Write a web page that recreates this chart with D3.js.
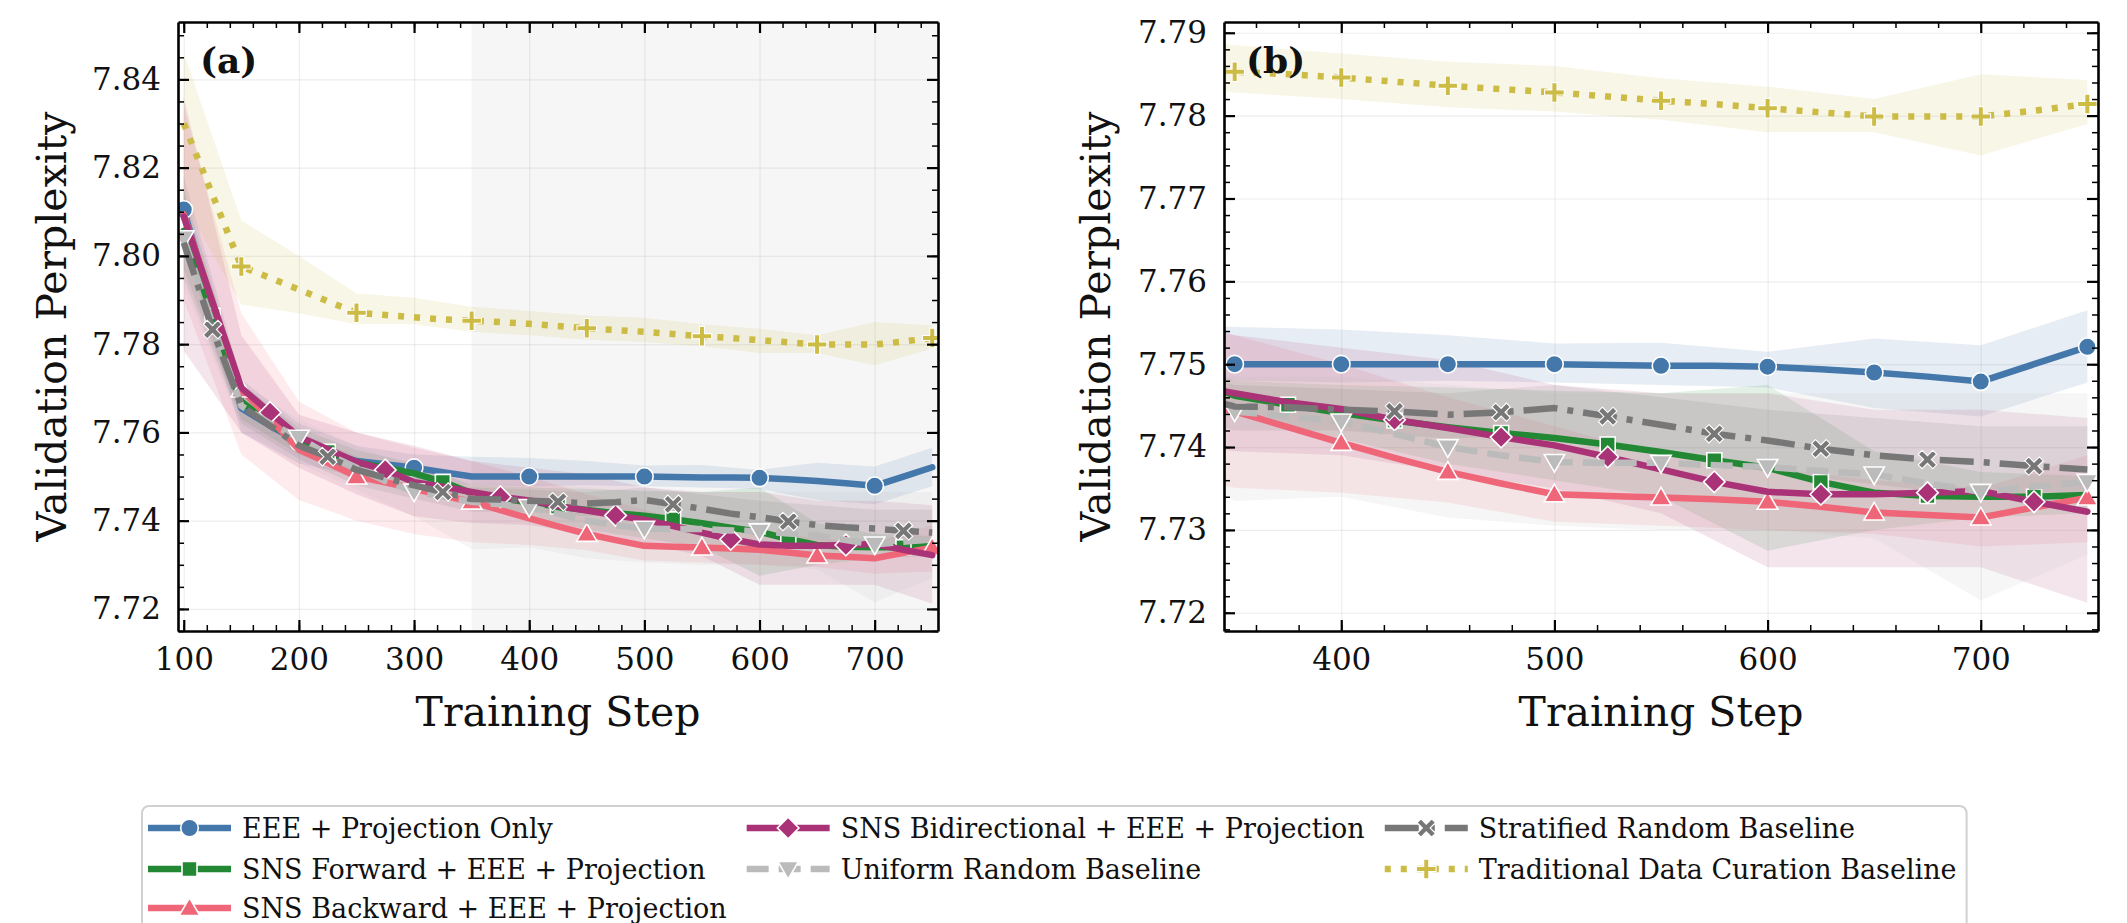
<!DOCTYPE html>
<html><head><meta charset="utf-8">
<script src="https://cdn.jsdelivr.net/npm/d3@7"></script>
<style>body{margin:0;background:#fff}svg{display:block}</style>
</head><body>
<svg id="chart" width="2127" height="923"></svg>
<script>
// ---------------- DATA ----------------
const steps = [100,125,150,175,200,225,250,275,300,325,350,375,400,425,450,475,500,525,550,575,600,625,650,675,700,725,750];
const eeeOnly      = [7.8105,7.7880,7.7655,7.7615,7.7578,7.7555,7.7535,7.7528,7.7520,7.7510,7.7500,7.7500,7.7500,7.7500,7.7500,7.7500,7.7500,7.7499,7.7498,7.7498,7.7497,7.7494,7.7490,7.7485,7.7479,7.7500,7.7521];
const snsForward   = [7.8057,7.7864,7.7670,7.7620,7.7577,7.7556,7.7532,7.7520,7.7507,7.7488,7.7462,7.7451,7.7441,7.7432,7.7424,7.7417,7.7411,7.7403,7.7394,7.7384,7.7375,7.7358,7.7345,7.7341,7.7340,7.7340,7.7342];
const snsBackward  = [7.8094,7.7895,7.7697,7.7630,7.7561,7.7531,7.7500,7.7487,7.7472,7.7457,7.7443,7.7424,7.7405,7.7387,7.7370,7.7356,7.7343,7.7341,7.7339,7.7337,7.7334,7.7328,7.7321,7.7318,7.7315,7.7327,7.7339];
const snsBidir     = [7.8089,7.7895,7.7701,7.7645,7.7590,7.7562,7.7533,7.7515,7.7487,7.7477,7.7465,7.7454,7.7446,7.7433,7.7423,7.7412,7.7402,7.7388,7.7373,7.7358,7.7346,7.7343,7.7343,7.7345,7.7347,7.7334,7.7322];
const uniformRand  = [7.8040,7.7845,7.7660,7.7620,7.7588,7.7550,7.7520,7.7490,7.7466,7.7455,7.7443,7.7437,7.7431,7.7416,7.7400,7.7390,7.7382,7.7381,7.7381,7.7378,7.7376,7.7371,7.7367,7.7356,7.7346,7.7352,7.7358];
const stratRand    = [7.8030,7.7833,7.7660,7.7615,7.7570,7.7545,7.7515,7.7497,7.7480,7.7465,7.7449,7.7448,7.7445,7.7443,7.7439,7.7442,7.7447,7.7437,7.7427,7.7416,7.7408,7.7398,7.7390,7.7385,7.7382,7.7377,7.7373];
const traditional  = [7.8300,7.8138,7.7976,7.7950,7.7924,7.7897,7.7871,7.7866,7.7861,7.7856,7.7853,7.7850,7.7846,7.7841,7.7836,7.7832,7.7828,7.7823,7.7818,7.7814,7.7809,7.7804,7.7799,7.7799,7.7799,7.7806,7.7814];

// confidence bands (every 50 steps)
const bandSteps = [100,150,200,250,300,350,400,450,500,550,600,650,700,750];
const eeeLo   = [7.8030,7.7600,7.7530,7.7500,7.7490,7.7480,7.7478,7.7480,7.7478,7.7475,7.7472,7.7447,7.7437,7.7478];
const eeeHi   = [7.8180,7.7720,7.7620,7.7570,7.7550,7.7545,7.7542,7.7535,7.7525,7.7526,7.7515,7.7531,7.7523,7.7565];
const fwdLo   = [7.7970,7.7630,7.7550,7.7500,7.7480,7.7440,7.7410,7.7380,7.7360,7.7340,7.7275,7.7300,7.7315,7.7320];
const fwdHi   = [7.8150,7.7710,7.7610,7.7560,7.7530,7.7480,7.7475,7.7472,7.7468,7.7465,7.7475,7.7395,7.7370,7.7365];
const bwdLo   = [7.7900,7.7550,7.7447,7.7400,7.7370,7.7351,7.7345,7.7333,7.7310,7.7305,7.7300,7.7295,7.7280,7.7285];
const bwdHi   = [7.8340,7.7870,7.7670,7.7600,7.7565,7.7535,7.7500,7.7460,7.7425,7.7390,7.7375,7.7360,7.7350,7.7390];
const bidLo   = [7.7785,7.7600,7.7520,7.7460,7.7410,7.7395,7.7390,7.7370,7.7350,7.7320,7.7255,7.7255,7.7255,7.7212];
const bidHi   = [7.8360,7.7820,7.7640,7.7600,7.7570,7.7535,7.7520,7.7505,7.7475,7.7465,7.7465,7.7445,7.7445,7.7435];
const uniLo   = [7.7930,7.7610,7.7530,7.7470,7.7410,7.7335,7.7340,7.7315,7.7305,7.7300,7.7300,7.7290,7.7215,7.7270];
const uniHi   = [7.8140,7.7710,7.7630,7.7570,7.7520,7.7485,7.7485,7.7475,7.7465,7.7465,7.7465,7.7465,7.7465,7.7465];
const strLo   = [7.7950,7.7620,7.7540,7.7480,7.7450,7.7420,7.7420,7.7410,7.7415,7.7395,7.7370,7.7355,7.7340,7.7330];
const strHi   = [7.8120,7.7700,7.7600,7.7545,7.7510,7.7475,7.7470,7.7465,7.7475,7.7460,7.7445,7.7435,7.7425,7.7425];
const tradLo  = [7.8120,7.7890,7.7870,7.7845,7.7845,7.7828,7.7820,7.7810,7.7805,7.7795,7.7780,7.7780,7.7752,7.7790];
const tradHi  = [7.8460,7.8080,7.8000,7.7915,7.7905,7.7885,7.7875,7.7865,7.7860,7.7845,7.7835,7.7820,7.7850,7.7843];

const seriesNames = ["EEE + Projection Only","SNS Forward + EEE + Projection","SNS Backward + EEE + Projection",
  "SNS Bidirectional + EEE + Projection","Uniform Random Baseline","Stratified Random Baseline","Traditional Data Curation Baseline"];
const colors = ["#4477AA","#228833","#EE6677","#AA3377","#BBBBBB","#777777","#CCBB44"];

// marker positions (training steps) per panel
const marksA = [[100,200,300,400,500,600,700],[125,225,325,425,525,625,725],[150,250,350,450,550,650,750],
  [175,275,375,475,575,675],[100,200,300,400,500,600,700],[125,225,325,425,525,625,725],[150,250,350,450,550,650,750]];
const marksB = [[350,400,450,500,550,600,650,700,750],[375,425,475,525,575,625,675,725],[400,450,500,550,600,650,700,750],
  [425,475,525,575,625,675,725],[350,400,450,500,550,600,650,700,750],[425,475,525,575,625,675,725],[350,400,450,500,550,600,650,700,750]];

const xTicksA = [100,200,300,400,500,600,700];
const yTicksA = [7.72,7.74,7.76,7.78,7.80,7.82,7.84];
const xTicksB = [400,500,600,700];
const yTicksB = [7.72,7.73,7.74,7.75,7.76,7.77,7.78,7.79];

// ---------------- STYLE ----------------
const values = [eeeOnly,snsForward,snsBackward,snsBidir,uniformRand,stratRand,traditional];
const bands = [[eeeLo,eeeHi],[fwdLo,fwdHi],[bwdLo,bwdHi],[bidLo,bidHi],[uniLo,uniHi],[strLo,strHi],[tradLo,tradHi]];
const dashes = [null,null,null,null,"22,10","34,10,6,10","6,10"];
const shapes = ["circle","square","triUp","diamond","triDown","x","plus"];
const FONT = "DejaVu Serif";

function shapeType(kind){
  return {draw(ctx, size){
    const r = Math.sqrt(size);
    if(kind==="circle"){ctx.moveTo(r,0);ctx.arc(0,0,r,0,2*Math.PI);}
    else if(kind==="square"){ctx.rect(-r,-r,2*r,2*r);}
    else if(kind==="triUp"){ctx.moveTo(0,-r*1.1);ctx.lineTo(r*1.1,r*0.8);ctx.lineTo(-r*1.1,r*0.8);ctx.closePath();}
    else if(kind==="triDown"){ctx.moveTo(0,r*1.1);ctx.lineTo(r*1.1,-r*0.8);ctx.lineTo(-r*1.1,-r*0.8);ctx.closePath();}
    else if(kind==="diamond"){ctx.moveTo(0,-r);ctx.lineTo(r,0);ctx.lineTo(0,r);ctx.lineTo(-r,0);ctx.closePath();}
    else if(kind==="x"){const a=r, w=r*0.42;
      const pts=[[-a+w,-a],[0,-w],[a-w,-a],[a,-a+w],[w,0],[a,a-w],[a-w,a],[0,w],[-a+w,a],[-a,a-w],[-w,0],[-a,-a+w]];
      ctx.moveTo(pts[0][0],pts[0][1]);pts.slice(1).forEach(p=>ctx.lineTo(p[0],p[1]));ctx.closePath();}
    else if(kind==="plus"){const a=r, w=r*0.26;
      const pts=[[-w,-a],[w,-a],[w,-w],[a,-w],[a,w],[w,w],[w,a],[-w,a],[-w,w],[-a,w],[-a,-w],[-w,-w]];
      ctx.moveTo(pts[0][0],pts[0][1]);pts.slice(1).forEach(p=>ctx.lineTo(p[0],p[1]));ctx.closePath();}
  }};
}
const markerR = {circle:8.8,square:7.5,triUp:9.3,triDown:9.3,diamond:10.8,x:9.2,plus:9.8};
const edgeW = {circle:1.6,square:1.6,triUp:1.6,triDown:1.6,diamond:1.6,x:1.1,plus:1.1};
const LW = 6.5;

const svg = d3.select("#chart");
svg.append("rect").attr("width",2127).attr("height",923).attr("fill","#fff");
const defs = svg.append("defs");

function panel(opts){
  const {id,x0,x1,y0,y1,xDom,yDom,xTicks,yTicks,xMinor,yMinor,marks,label,shade,ylab} = opts;
  const x = d3.scaleLinear().domain(xDom).range([x0,x1]);
  const y = d3.scaleLinear().domain(yDom).range([y1,y0]);
  defs.append("clipPath").attr("id","clip"+id).append("rect")
    .attr("x",x0).attr("y",y0).attr("width",x1-x0).attr("height",y1-y0);
  const g = svg.append("g");
  const plot = g.append("g").attr("clip-path",`url(#clip${id})`);
  if(shade){
    plot.append("rect").attr("x",x(shade[0])).attr("y",y0).attr("width",x(shade[1])-x(shade[0])).attr("height",y1-y0)
      .attr("fill","#808080").attr("fill-opacity",0.07);
  }
  // grid
  const gridStyle = s=>{s.select(".domain").remove();s.selectAll("line").attr("stroke","#b0b0b0").attr("stroke-opacity",0.22).attr("stroke-width",1.2);};
  plot.append("g").attr("transform",`translate(0,${y1})`)
    .call(d3.axisBottom(x).tickValues(xTicks).tickSize(-(y1-y0)).tickFormat("")).call(gridStyle);
  plot.append("g").attr("transform",`translate(${x0},0)`)
    .call(d3.axisLeft(y).tickValues(yTicks).tickSize(-(x1-x0)).tickFormat("")).call(gridStyle);
  // bands
  bands.forEach((b,i)=>{
    const area = d3.area().x((d,k)=>x(bandSteps[k])).y0((d,k)=>y(b[0][k])).y1((d,k)=>y(b[1][k]));
    plot.append("path").datum(bandSteps).attr("d",area).attr("fill",colors[i]).attr("fill-opacity",0.13);
  });
  // lines + markers
  values.forEach((v,i)=>{
    const line = d3.line().x((d,k)=>x(steps[k])).y(d=>y(d));
    plot.append("path").datum(v).attr("d",line).attr("fill","none").attr("stroke",colors[i])
      .attr("stroke-width",LW).attr("stroke-dasharray",dashes[i]).attr("stroke-linejoin","round")
      .attr("stroke-linecap", dashes[i] ? "butt" : "round");
    const sym = d3.symbol().type(shapeType(shapes[i])).size(markerR[shapes[i]]**2);
    plot.append("g").selectAll("path").data(marks[i]).join("path")
      .attr("transform",s=>`translate(${x(s)},${y(v[steps.indexOf(s)])})`)
      .attr("d",sym).attr("fill",colors[i]).attr("stroke","#fff").attr("stroke-width",edgeW[shapes[i]]);
  });
  // axes with inward ticks
  const styleAxis = s=>{
    s.select(".domain").attr("stroke","#000").attr("stroke-width",2.6);
    s.selectAll(".tick line").attr("stroke","#000").attr("stroke-width",2.2);
    s.selectAll(".tick text").attr("font-family",FONT).attr("font-size",31).attr("fill","#111");
  };
  const minorStyle = s=>{s.select(".domain").remove();s.selectAll(".tick line").attr("stroke","#000").attr("stroke-width",1.5);};
  g.append("g").attr("transform",`translate(0,${y1})`).call(d3.axisBottom(x).tickValues(xMinor).tickSize(-6).tickSizeOuter(0).tickFormat("")).call(minorStyle);
  g.append("g").attr("transform",`translate(0,${y0})`).call(d3.axisTop(x).tickValues(xMinor).tickSize(-6).tickSizeOuter(0).tickFormat("")).call(minorStyle);
  g.append("g").attr("transform",`translate(${x0},0)`).call(d3.axisLeft(y).tickValues(yMinor).tickSize(-6).tickSizeOuter(0).tickFormat("")).call(minorStyle);
  g.append("g").attr("transform",`translate(${x1},0)`).call(d3.axisRight(y).tickValues(yMinor).tickSize(-6).tickSizeOuter(0).tickFormat("")).call(minorStyle);
  g.append("g").attr("transform",`translate(0,${y1})`)
    .call(d3.axisBottom(x).tickValues(xTicks).tickSize(-11).tickSizeOuter(0).tickPadding(17).tickFormat(d3.format("d"))).call(styleAxis);
  g.append("g").attr("transform",`translate(0,${y0})`)
    .call(d3.axisTop(x).tickValues(xTicks).tickSize(-11).tickSizeOuter(0).tickFormat("")).call(styleAxis);
  g.append("g").attr("transform",`translate(${x0},0)`)
    .call(d3.axisLeft(y).tickValues(yTicks).tickSize(-11).tickSizeOuter(0).tickPadding(17).tickFormat(d3.format(".2f"))).call(styleAxis);
  g.append("g").attr("transform",`translate(${x1},0)`)
    .call(d3.axisRight(y).tickValues(yTicks).tickSize(-11).tickSizeOuter(0).tickFormat("")).call(styleAxis);
  // labels
  g.append("text").attr("x",(x0+x1)/2).attr("y",712).attr("text-anchor","middle").attr("dominant-baseline","central")
    .attr("font-family",FONT).attr("font-size",41).attr("fill","#111").text("Training Step");
  g.append("text").attr("transform",`translate(${opts.ylabX},${(y0+y1)/2}) rotate(-90)`).attr("text-anchor","middle")
    .attr("dominant-baseline","central").attr("font-family",FONT).attr("font-size",41).attr("fill","#111").text(ylab);
  g.append("text").attr("x",x0+22).attr("y",60).attr("dominant-baseline","central").attr("font-family",FONT)
    .attr("font-weight","bold").attr("font-size",36).attr("fill","#111").text(label);
}

const minorRange = (a,b,s)=>d3.range(Math.round(a/s),Math.round(b/s)+1).map(k=>+(k*s).toFixed(4));
panel({id:"A",x0:178,x1:938,y0:22,y1:631,xDom:[95,755],yDom:[7.715,7.853],xTicks:xTicksA,yTicks:yTicksA,
  xMinor:minorRange(100,740,20),yMinor:minorRange(7.715,7.85,0.005),marks:marksA,label:"(a)",shade:[350,755],
  ylab:"Validation Perplexity",ylabX:52});
panel({id:"B",x0:1224,x1:2098,y0:22,y1:631,xDom:[345,755],yDom:[7.7178,7.7913],xTicks:xTicksB,yTicks:yTicksB,
  xMinor:minorRange(360,740,20),yMinor:minorRange(7.718,7.79,0.002),marks:marksB,label:"(b)",shade:null,
  ylab:"Validation Perplexity",ylabX:1096});

// ---------------- LEGEND ----------------
const leg = svg.append("g");
const legBox = leg.append("rect").attr("x",142).attr("y",806).attr("rx",7).attr("height",150)
  .attr("fill","#fff").attr("fill-opacity",0.85).attr("stroke","#d0d0d0").attr("stroke-width",2);
const cols = [[0,1,2],[3,4],[5,6]];
const rowY = [828,869,908];
const handleLen = 83, handlePad = 11, colSpace = 20;
let cx = 148;
cols.forEach(col=>{
  let maxW = 0;
  col.forEach((i,r)=>{
    const yy = rowY[r];
    leg.append("line").attr("x1",cx).attr("x2",cx+handleLen).attr("y1",yy).attr("y2",yy)
      .attr("stroke",colors[i]).attr("stroke-width",LW).attr("stroke-dasharray",dashes[i]);
    const sym = d3.symbol().type(shapeType(shapes[i])).size(markerR[shapes[i]]**2);
    leg.append("path").attr("transform",`translate(${cx+handleLen/2},${yy})`).attr("d",sym)
      .attr("fill",colors[i]).attr("stroke","#fff").attr("stroke-width",edgeW[shapes[i]]);
    const t = leg.append("text").attr("x",cx+handleLen+handlePad).attr("y",yy).attr("dominant-baseline","central")
      .attr("font-family",FONT).attr("font-size",27).attr("fill","#111").text(seriesNames[i]);
    maxW = Math.max(maxW, t.node().getComputedTextLength());
  });
  cx += handleLen + handlePad + maxW + colSpace;
});
legBox.attr("width", cx - colSpace + 10 - 142);
</script>
</body></html>
